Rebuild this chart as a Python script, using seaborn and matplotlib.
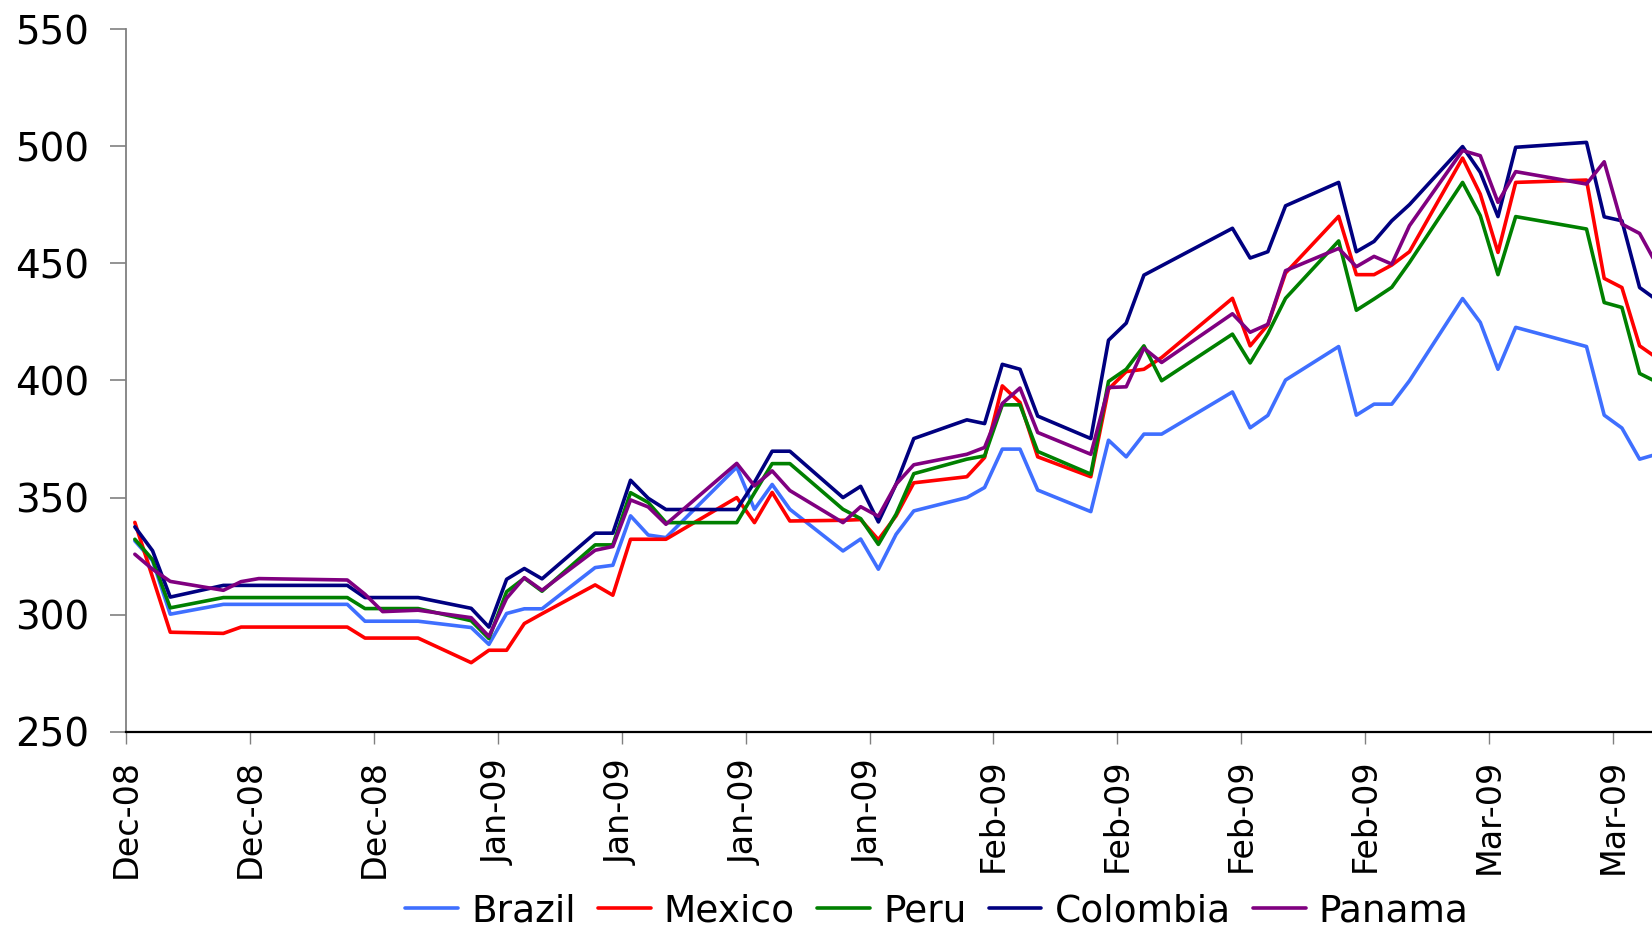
import matplotlib
matplotlib.use("Agg")
import matplotlib.pyplot as plt
import matplotlib.dates as mdates
import pandas as pd
import seaborn as sns

# Trading days (EMBI-style spread series, basis points)
dates = [
    "2008-12-17", "2008-12-18", "2008-12-19", "2008-12-22", "2008-12-23", "2008-12-24",
    "2008-12-29", "2008-12-30", "2008-12-31", "2009-01-02",
    "2009-01-05", "2009-01-06", "2009-01-07", "2009-01-08", "2009-01-09",
    "2009-01-12", "2009-01-13", "2009-01-14", "2009-01-15", "2009-01-16",
    "2009-01-20", "2009-01-21", "2009-01-22", "2009-01-23",
    "2009-01-26", "2009-01-27", "2009-01-28", "2009-01-29", "2009-01-30",
    "2009-02-02", "2009-02-03", "2009-02-04", "2009-02-05", "2009-02-06",
    "2009-02-09", "2009-02-10", "2009-02-11", "2009-02-12", "2009-02-13",
    "2009-02-17", "2009-02-18", "2009-02-19", "2009-02-20",
    "2009-02-23", "2009-02-24", "2009-02-25", "2009-02-26", "2009-02-27",
    "2009-03-02", "2009-03-03", "2009-03-04", "2009-03-05",
    "2009-03-09", "2009-03-10", "2009-03-11", "2009-03-12", "2009-03-13",
]

brazil = [
    331.5, 323.0, 300.2, 304.4, 304.4, 304.4,
    304.4, 297.2, 297.2, 297.2,
    294.5, 287.3, 300.5, 302.5, 302.5,
    320.1, 321.1, 342.2, 334.0, 332.9,
    363.0, 345.0, 355.6, 345.0,
    327.2, 332.3, 319.4, 334.3, 344.3,
    350.0, 354.3, 370.7, 370.7, 353.2,
    344.0, 374.5, 367.4, 377.1, 377.1,
    395.1, 379.8, 385.1, 400.2,
    414.5, 385.2, 389.9, 389.9, 399.9,
    435.0, 424.8, 404.8, 422.7,
    414.5, 385.2, 379.7, 366.4, 368.6,
]

mexico = [
    339.4, 316.0, 292.5, 292.0, 294.7, 294.7,
    294.7, 290.0, 290.0, 290.0,
    279.5, 284.8, 284.8, 296.2, 300.4,
    312.7, 308.3, 332.2, 332.2, 332.2,
    350.0, 339.3, 352.2, 340.0,
    340.3, 340.6, 332.0, 342.2, 356.3,
    358.9, 367.1, 397.7, 390.6, 367.4,
    358.9, 396.3, 403.8, 404.8, 409.8,
    435.1, 414.8, 423.8, 445.9,
    470.1, 445.2, 445.2, 449.3, 455.0,
    495.0, 479.6, 454.7, 484.6,
    485.6, 443.6, 439.7, 414.8, 409.5,
]

peru = [
    332.2, 323.5, 302.9, 307.3, 307.3, 307.3,
    307.3, 302.6, 302.6, 302.6,
    297.4, 289.8, 309.8, 315.6, 310.0,
    329.8, 329.8, 352.1, 347.9, 339.3,
    339.3, 352.0, 364.5, 364.5,
    345.0, 341.0, 330.0, 342.9, 360.2,
    366.4, 367.8, 389.6, 389.6, 369.7,
    360.0, 399.6, 404.8, 414.8, 399.9,
    419.8, 407.5, 420.0, 435.1,
    459.6, 430.0, 434.8, 439.8, 450.4,
    484.6, 470.4, 445.2, 470.0,
    464.7, 433.3, 431.2, 403.0, 399.2,
]

colombia = [
    337.5, 327.3, 307.5, 312.5, 312.5, 312.5,
    312.5, 307.3, 307.3, 307.3,
    302.7, 294.7, 315.1, 319.7, 315.3,
    334.8, 334.8, 357.4, 349.7, 344.9,
    344.9, 356.5, 369.8, 369.8,
    350.0, 354.8, 339.6, 355.7, 375.2,
    383.2, 381.6, 406.9, 404.8, 384.8,
    375.2, 417.2, 424.5, 445.0, 449.0,
    465.0, 452.3, 455.0, 474.6,
    484.6, 455.0, 459.4, 468.2, 475.1,
    499.9, 488.9, 470.0, 499.6,
    501.7, 469.9, 468.2, 439.7, 434.2,
]

panama = [
    325.8, 319.4, 314.2, 310.4, 314.1, 315.4,
    314.8, 308.7, 301.3, 301.9,
    298.7, 290.7, 307.0, 315.8, 310.4,
    327.5, 329.1, 349.0, 346.0, 338.6,
    364.6, 355.0, 361.4, 353.0,
    339.3, 346.1, 342.0, 355.7, 364.0,
    368.5, 371.4, 390.2, 396.8, 377.8,
    368.5, 397.0, 397.3, 413.8, 407.7,
    428.5, 420.6, 424.0, 446.9,
    456.4, 448.6, 453.0, 449.7, 466.1,
    498.2, 496.0, 476.1, 489.2,
    483.9, 493.4, 466.8, 462.8, 449.0,
]

countries = ["Brazil", "Mexico", "Peru", "Colombia", "Panama"]
colors = ["#3F6FFF", "#FF0000", "#008000", "#000080", "#800080"]
y_ticks = [250, 300, 350, 400, 450, 500, 550]

series = dict(zip(countries, [brazil, mexico, peru, colombia, panama]))

# Long-form table; each daily value sits in the middle of its day slot
day_pos = pd.to_datetime(dates) + pd.Timedelta(hours=12)
frames = [pd.DataFrame({"date": day_pos, "spread": vals, "country": name})
          for name, vals in series.items()]
df = pd.concat(frames, ignore_index=True)

sns.set_style("white")
plt.rcParams["font.family"] = ["DejaVu Sans"]
plt.rcParams["text.color"] = "black"
plt.rcParams["xtick.labelcolor"] = "black"
plt.rcParams["ytick.labelcolor"] = "black"

fig = plt.figure(figsize=(16.52, 9.35), dpi=100)
ax = fig.add_axes([126 / 1652, 0.2174, 1 - 126 / 1652, 0.7513])

sns.lineplot(data=df, x="date", y="spread", hue="country", hue_order=countries,
             palette=colors, linewidth=2.6, ax=ax, legend=False)

start = pd.Timestamp("2008-12-17")
ax.set_xlim(start, start + pd.Timedelta(days=86.2))
ax.set_ylim(250, 550)

ax.set_yticks(y_ticks)
ax.set_yticklabels([str(v) for v in y_ticks], fontsize=28, color="black")
week_ticks = pd.date_range(start, periods=13, freq="7D")
ax.set_xticks(week_ticks)
ax.xaxis.set_major_formatter(mdates.DateFormatter("%b-%y"))
for lbl in ax.get_xticklabels():
    lbl.set_rotation(90)
    lbl.set_fontsize(24)
    lbl.set_color("black")
    lbl.set_va("top")
    lbl.set_ha("center")

ax.set_xlabel("")
ax.set_ylabel("")
ax.grid(False)

for side in ("top", "right"):
    ax.spines[side].set_visible(False)
ax.spines["left"].set_color("#808080")
ax.spines["left"].set_linewidth(1.3)
ax.spines["bottom"].set_color("black")
ax.spines["bottom"].set_linewidth(1.6)

ax.tick_params(axis="y", direction="out", length=11.5, width=1.2,
               color="#808080", pad=15, left=True)
ax.tick_params(axis="x", direction="out", length=8.5, width=1.0,
               color="#808080", pad=11, bottom=True)

handles = [plt.Line2D([], [], color=c, linewidth=2.6) for c in colors]
leg = fig.legend(handles, countries, loc="lower center",
                 bbox_to_anchor=(937 / 1652, -0.030), ncol=5, frameon=False,
                 fontsize=27, handlelength=1.4, handletextpad=0.35,
                 columnspacing=0.6)
for t in leg.get_texts():
    t.set_color("black")

fig.savefig("out.png", dpi=100)
